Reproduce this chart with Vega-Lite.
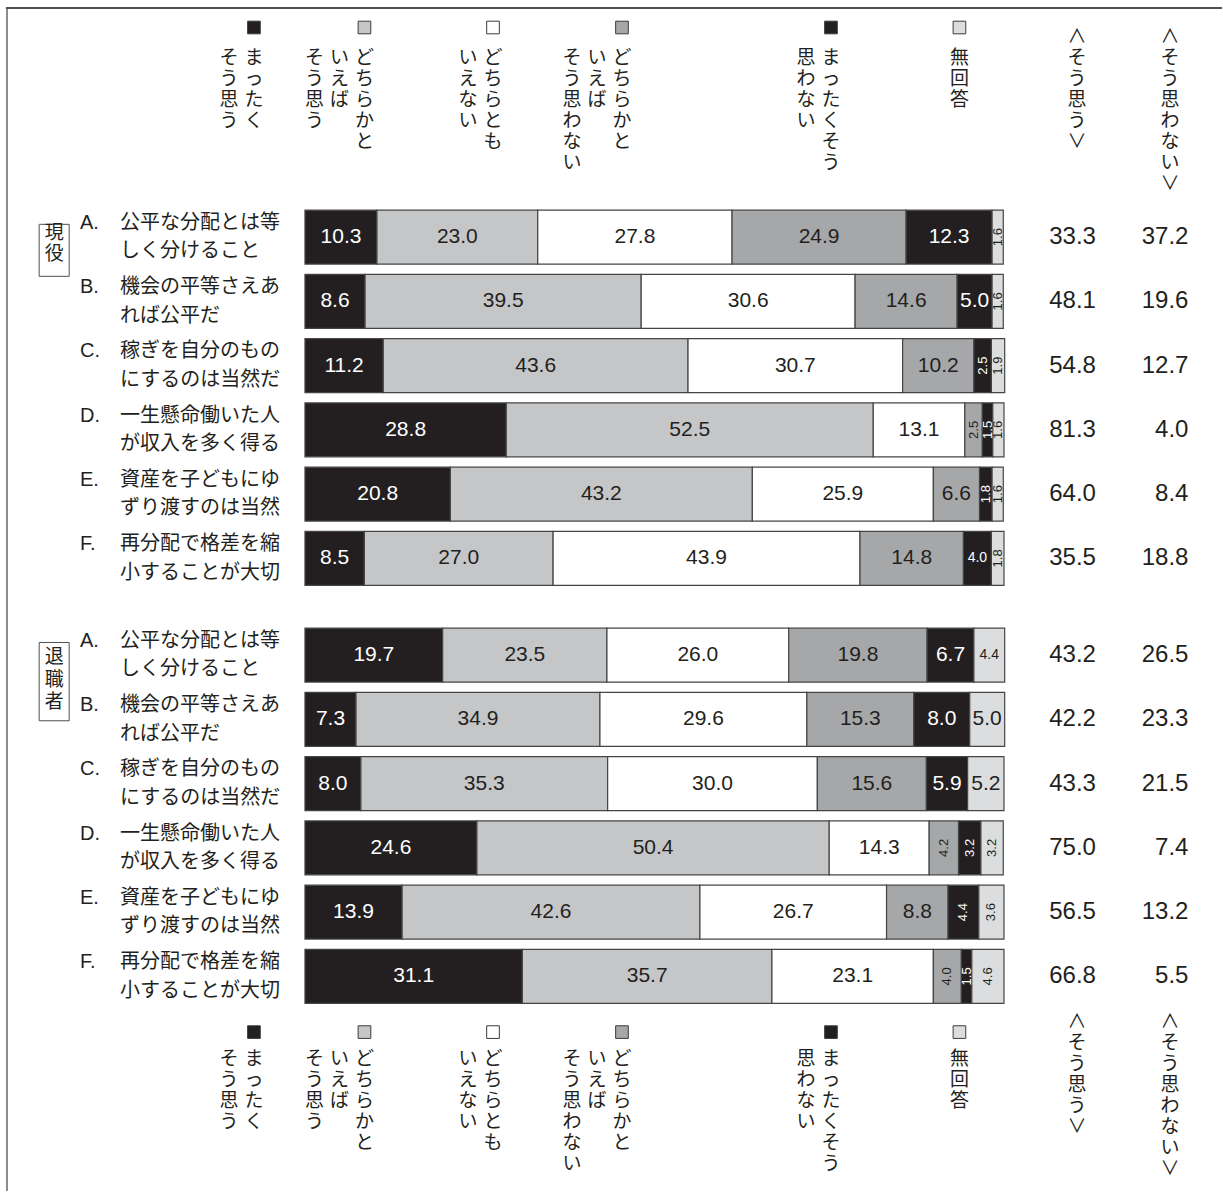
{
  "$schema": "https://vega.github.io/schema/vega-lite/v6.json",
  "padding": {"left": 0, "top": 7, "right": 0, "bottom": 0},
  "spacing": 0,
  "bounds": "flush",
  "config": {"view": {"stroke": null}, "font": "Liberation Sans"},
  "resolve": {"scale": {"y": "independent"}},
  "datasets": {
    "bars": [
      {"g": "現役", "item": "A", "label": "公平な分配とは等しく分けること", "a1": 10.3, "a2": 23.0, "a3": 27.8, "a4": 24.9, "a5": 12.3, "a6": 1.6, "agree": 33.3, "disagree": 37.2},
      {"g": "現役", "item": "B", "label": "機会の平等さえあれば公平だ", "a1": 8.6, "a2": 39.5, "a3": 30.6, "a4": 14.6, "a5": 5.0, "a6": 1.6, "agree": 48.1, "disagree": 19.6},
      {"g": "現役", "item": "C", "label": "稼ぎを自分のものにするのは当然だ", "a1": 11.2, "a2": 43.6, "a3": 30.7, "a4": 10.2, "a5": 2.5, "a6": 1.9, "agree": 54.8, "disagree": 12.7},
      {"g": "現役", "item": "D", "label": "一生懸命働いた人が収入を多く得る", "a1": 28.8, "a2": 52.5, "a3": 13.1, "a4": 2.5, "a5": 1.5, "a6": 1.6, "agree": 81.3, "disagree": 4.0},
      {"g": "現役", "item": "E", "label": "資産を子どもにゆずり渡すのは当然", "a1": 20.8, "a2": 43.2, "a3": 25.9, "a4": 6.6, "a5": 1.8, "a6": 1.6, "agree": 64.0, "disagree": 8.4},
      {"g": "現役", "item": "F", "label": "再分配で格差を縮小することが大切", "a1": 8.5, "a2": 27.0, "a3": 43.9, "a4": 14.8, "a5": 4.0, "a6": 1.8, "agree": 35.5, "disagree": 18.8},
      {"g": "退職者", "item": "A", "label": "公平な分配とは等しく分けること", "a1": 19.7, "a2": 23.5, "a3": 26.0, "a4": 19.8, "a5": 6.7, "a6": 4.4, "agree": 43.2, "disagree": 26.5},
      {"g": "退職者", "item": "B", "label": "機会の平等さえあれば公平だ", "a1": 7.3, "a2": 34.9, "a3": 29.6, "a4": 15.3, "a5": 8.0, "a6": 5.0, "agree": 42.2, "disagree": 23.3},
      {"g": "退職者", "item": "C", "label": "稼ぎを自分のものにするのは当然だ", "a1": 8.0, "a2": 35.3, "a3": 30.0, "a4": 15.6, "a5": 5.9, "a6": 5.2, "agree": 43.3, "disagree": 21.5},
      {"g": "退職者", "item": "D", "label": "一生懸命働いた人が収入を多く得る", "a1": 24.6, "a2": 50.4, "a3": 14.3, "a4": 4.2, "a5": 3.2, "a6": 3.2, "agree": 75.0, "disagree": 7.4},
      {"g": "退職者", "item": "E", "label": "資産を子どもにゆずり渡すのは当然", "a1": 13.9, "a2": 42.6, "a3": 26.7, "a4": 8.8, "a5": 4.4, "a6": 3.6, "agree": 56.5, "disagree": 13.2},
      {"g": "退職者", "item": "F", "label": "再分配で格差を縮小することが大切", "a1": 31.1, "a2": 35.7, "a3": 23.1, "a4": 4.0, "a5": 1.5, "a6": 4.6, "agree": 66.8, "disagree": 5.5}
    ],
    "answers": [
      {"c": "a1", "col": 0, "s": "まったく"},
      {"c": "a1", "col": 1, "s": "そう思う"},
      {"c": "a2", "col": 0, "s": "どちらかと"},
      {"c": "a2", "col": 1, "s": "いえば"},
      {"c": "a2", "col": 2, "s": "そう思う"},
      {"c": "a3", "col": 0, "s": "どちらとも"},
      {"c": "a3", "col": 1, "s": "いえない"},
      {"c": "a4", "col": 0, "s": "どちらかと"},
      {"c": "a4", "col": 1, "s": "いえば"},
      {"c": "a4", "col": 2, "s": "そう思わない"},
      {"c": "a5", "col": 0, "s": "まったくそう"},
      {"c": "a5", "col": 1, "s": "思わない"},
      {"c": "a6", "col": 0, "s": "無回答"}
    ],
    "totalsHead": [
      {"sum": "agree", "s": "∧そう思う∨"},
      {"sum": "disagree", "s": "∧そう思わない∨"}
    ]
  },
  "vconcat": [
    {
      "width": 1222,
      "height": 196.2,
      "data": {"name": "answers"},
      "transform": [{"calculate": "split(datum.s, '')", "as": "chars"}],
      "layer": [
        {"data": {"values": [{}]}, "mark": {"type": "rule", "color": "#8c8c8c", "strokeWidth": 2},
         "encoding": {"x": {"datum": -42.63, "type": "quantitative", "scale": {"domain": [-43.63, 131.19], "nice": false, "zero": false}, "axis": null},
           "y": {"datum": 1, "type": "quantitative", "scale": {"domain": [0, 1], "nice": false, "zero": false}, "axis": null}, "y2": {"datum": -5.03}}},
        {"data": {"values": [{}]}, "mark": {"type": "rule", "color": "#505050", "strokeWidth": 2},
         "encoding": {"x": {"datum": -42.78, "type": "quantitative", "scale": {"domain": [-43.63, 131.19], "nice": false, "zero": false}, "axis": null}, "x2": {"datum": 131.19},
           "y": {"datum": 1, "type": "quantitative", "scale": {"domain": [0, 1], "nice": false, "zero": false}, "axis": null}}},
        {"transform": [{"filter": "datum.c === 'a1'"}],
         "encoding": {"x": {"datum": -7.30, "type": "quantitative", "scale": {"domain": [-43.63, 131.19], "nice": false, "zero": false}, "axis": null}},
         "layer": [
           {"transform": [{"filter": "datum.col === 0"}], "mark": {"type": "point", "shape": "square", "filled": true, "size": 160, "stroke": "#3c3c3c", "strokeWidth": 1, "opacity": 1, "yOffset": -78.6},
            "encoding": {"color": {"field": "c", "type": "nominal", "scale": {"domain": ["a1", "a2", "a3", "a4", "a5", "a6"], "range": ["#231f20", "#c5c6c8", "#ffffff", "#a6a7a9", "#231f20", "#dcdddf"]}, "legend": null}}},
           {"mark": {"type": "text", "font": "Noto Sans CJK JP", "fontSize": 19, "lineHeight": 21, "align": "center", "baseline": "top", "dy": -57.6, "color": "#231f20"},
            "encoding": {"xOffset": {"field": "col", "type": "quantitative", "scale": {"domain": [0, 2], "range": [0, -50], "nice": false, "zero": false}}, "text": {"field": "chars", "type": "nominal"}}}
         ]},
        {"transform": [{"filter": "datum.c === 'a2'"}],
         "encoding": {"x": {"datum": 8.51, "type": "quantitative", "scale": {"domain": [-43.63, 131.19], "nice": false, "zero": false}, "axis": null}},
         "layer": [
           {"transform": [{"filter": "datum.col === 0"}], "mark": {"type": "point", "shape": "square", "filled": true, "size": 160, "stroke": "#3c3c3c", "strokeWidth": 1, "opacity": 1, "yOffset": -78.6},
            "encoding": {"color": {"field": "c", "type": "nominal", "scale": {"domain": ["a1", "a2", "a3", "a4", "a5", "a6"], "range": ["#231f20", "#c5c6c8", "#ffffff", "#a6a7a9", "#231f20", "#dcdddf"]}, "legend": null}}},
           {"mark": {"type": "text", "font": "Noto Sans CJK JP", "fontSize": 19, "lineHeight": 21, "align": "center", "baseline": "top", "dy": -57.6, "color": "#231f20"},
            "encoding": {"xOffset": {"field": "col", "type": "quantitative", "scale": {"domain": [0, 2], "range": [0, -50], "nice": false, "zero": false}}, "text": {"field": "chars", "type": "nominal"}}}
         ]},
        {"transform": [{"filter": "datum.c === 'a3'"}],
         "encoding": {"x": {"datum": 26.90, "type": "quantitative", "scale": {"domain": [-43.63, 131.19], "nice": false, "zero": false}, "axis": null}},
         "layer": [
           {"transform": [{"filter": "datum.col === 0"}], "mark": {"type": "point", "shape": "square", "filled": true, "size": 160, "stroke": "#3c3c3c", "strokeWidth": 1, "opacity": 1, "yOffset": -78.6},
            "encoding": {"color": {"field": "c", "type": "nominal", "scale": {"domain": ["a1", "a2", "a3", "a4", "a5", "a6"], "range": ["#231f20", "#c5c6c8", "#ffffff", "#a6a7a9", "#231f20", "#dcdddf"]}, "legend": null}}},
           {"mark": {"type": "text", "font": "Noto Sans CJK JP", "fontSize": 19, "lineHeight": 21, "align": "center", "baseline": "top", "dy": -57.6, "color": "#231f20"},
            "encoding": {"xOffset": {"field": "col", "type": "quantitative", "scale": {"domain": [0, 2], "range": [0, -50], "nice": false, "zero": false}}, "text": {"field": "chars", "type": "nominal"}}}
         ]},
        {"transform": [{"filter": "datum.c === 'a4'"}],
         "encoding": {"x": {"datum": 45.35, "type": "quantitative", "scale": {"domain": [-43.63, 131.19], "nice": false, "zero": false}, "axis": null}},
         "layer": [
           {"transform": [{"filter": "datum.col === 0"}], "mark": {"type": "point", "shape": "square", "filled": true, "size": 160, "stroke": "#3c3c3c", "strokeWidth": 1, "opacity": 1, "yOffset": -78.6},
            "encoding": {"color": {"field": "c", "type": "nominal", "scale": {"domain": ["a1", "a2", "a3", "a4", "a5", "a6"], "range": ["#231f20", "#c5c6c8", "#ffffff", "#a6a7a9", "#231f20", "#dcdddf"]}, "legend": null}}},
           {"mark": {"type": "text", "font": "Noto Sans CJK JP", "fontSize": 19, "lineHeight": 21, "align": "center", "baseline": "top", "dy": -57.6, "color": "#231f20"},
            "encoding": {"xOffset": {"field": "col", "type": "quantitative", "scale": {"domain": [0, 2], "range": [0, -50], "nice": false, "zero": false}}, "text": {"field": "chars", "type": "nominal"}}}
         ]},
        {"transform": [{"filter": "datum.c === 'a5'"}],
         "encoding": {"x": {"datum": 75.25, "type": "quantitative", "scale": {"domain": [-43.63, 131.19], "nice": false, "zero": false}, "axis": null}},
         "layer": [
           {"transform": [{"filter": "datum.col === 0"}], "mark": {"type": "point", "shape": "square", "filled": true, "size": 160, "stroke": "#3c3c3c", "strokeWidth": 1, "opacity": 1, "yOffset": -78.6},
            "encoding": {"color": {"field": "c", "type": "nominal", "scale": {"domain": ["a1", "a2", "a3", "a4", "a5", "a6"], "range": ["#231f20", "#c5c6c8", "#ffffff", "#a6a7a9", "#231f20", "#dcdddf"]}, "legend": null}}},
           {"mark": {"type": "text", "font": "Noto Sans CJK JP", "fontSize": 19, "lineHeight": 21, "align": "center", "baseline": "top", "dy": -57.6, "color": "#231f20"},
            "encoding": {"xOffset": {"field": "col", "type": "quantitative", "scale": {"domain": [0, 2], "range": [0, -50], "nice": false, "zero": false}}, "text": {"field": "chars", "type": "nominal"}}}
         ]},
        {"transform": [{"filter": "datum.c === 'a6'"}],
         "encoding": {"x": {"datum": 93.63, "type": "quantitative", "scale": {"domain": [-43.63, 131.19], "nice": false, "zero": false}, "axis": null}},
         "layer": [
           {"transform": [{"filter": "datum.col === 0"}], "mark": {"type": "point", "shape": "square", "filled": true, "size": 160, "stroke": "#3c3c3c", "strokeWidth": 1, "opacity": 1, "yOffset": -78.6},
            "encoding": {"color": {"field": "c", "type": "nominal", "scale": {"domain": ["a1", "a2", "a3", "a4", "a5", "a6"], "range": ["#231f20", "#c5c6c8", "#ffffff", "#a6a7a9", "#231f20", "#dcdddf"]}, "legend": null}}},
           {"mark": {"type": "text", "font": "Noto Sans CJK JP", "fontSize": 19, "lineHeight": 21, "align": "center", "baseline": "top", "dy": -57.6, "color": "#231f20"},
            "encoding": {"xOffset": {"field": "col", "type": "quantitative", "scale": {"domain": [0, 2], "range": [0, -50], "nice": false, "zero": false}}, "text": {"field": "chars", "type": "nominal"}}}
         ]},
        {"data": {"name": "totalsHead"},
         "transform": [{"filter": "datum.sum === 'agree'"}, {"calculate": "split(datum.s, '')", "as": "chars"}],
         "mark": {"type": "text", "font": "Noto Sans CJK JP", "fontSize": 19, "lineHeight": 21, "align": "center", "baseline": "top", "dy": -78.6, "color": "#231f20"},
         "encoding": {"x": {"datum": 110.44, "type": "quantitative", "scale": {"domain": [-43.63, 131.19], "nice": false, "zero": false}, "axis": null}, "text": {"field": "chars", "type": "nominal"}}},
        {"data": {"name": "totalsHead"},
         "transform": [{"filter": "datum.sum === 'disagree'"}, {"calculate": "split(datum.s, '')", "as": "chars"}],
         "mark": {"type": "text", "font": "Noto Sans CJK JP", "fontSize": 19, "lineHeight": 21, "align": "center", "baseline": "top", "dy": -78.6, "color": "#231f20"},
         "encoding": {"x": {"datum": 123.75, "type": "quantitative", "scale": {"domain": [-43.63, 131.19], "nice": false, "zero": false}, "axis": null}, "text": {"field": "chars", "type": "nominal"}}}
      ]
    },
    {
      "width": 1222,
      "height": 417.7,
      "layer": [
        {"data": {"name": "bars"},
         "transform": [
           {"filter": "datum.g === '現役'"},
           {"fold": ["a1", "a2", "a3", "a4", "a5", "a6"], "as": ["c", "v"]},
           {"stack": "v", "groupby": ["item"], "sort": [{"field": "c", "order": "ascending"}], "as": ["v0", "v1"]},
           {"calculate": "(datum.v0 + datum.v1) / 2", "as": "vm"}
         ],
         "encoding": {"y": {"field": "item", "type": "nominal", "axis": null, "scale": {"paddingInner": 0.16, "paddingOuter": 0.3306, "align": 0.121}}},
         "layer": [
           {"mark": {"type": "bar", "stroke": "#454545", "strokeWidth": 1.2},
            "encoding": {"x": {"field": "v0", "type": "quantitative", "scale": {"domain": [-43.63, 131.19], "nice": false, "zero": false}, "axis": null}, "x2": {"field": "v1"},
              "color": {"field": "c", "type": "nominal", "scale": {"domain": ["a1", "a2", "a3", "a4", "a5", "a6"], "range": ["#231f20", "#c5c6c8", "#ffffff", "#a6a7a9", "#231f20", "#dcdddf"]}, "legend": null}}},
           {"mark": {"type": "text", "font": "Liberation Sans", "align": "center", "baseline": "middle"},
            "encoding": {"x": {"field": "vm", "type": "quantitative", "scale": {"domain": [-43.63, 131.19], "nice": false, "zero": false}, "axis": null},
              "text": {"field": "v", "type": "quantitative", "format": ".1f"},
              "color": {"condition": {"test": "datum.c === 'a1' || datum.c === 'a5'", "value": "#ffffff"}, "value": "#231f20"},
              "size": {"condition": [{"test": "datum.v < 3", "value": 13}, {"test": "datum.v < 5", "value": 14}], "value": 21},
              "angle": {"condition": {"test": "datum.v < 3", "value": 270}, "value": 0}}}
         ]},
        {"data": {"name": "bars"},
         "transform": [
           {"filter": "datum.g === '現役'"},
           {"calculate": "datum.item + '.'", "as": "tag"},
           {"calculate": "[substring(datum.label, 0, 8), substring(datum.label, 8)]", "as": "lines"}
         ],
         "encoding": {"y": {"field": "item", "type": "nominal", "axis": null}},
         "layer": [
           {"mark": {"type": "text", "align": "right", "baseline": "middle", "fontSize": 24, "color": "#231f20"},
            "encoding": {"x": {"datum": 113.16, "type": "quantitative", "scale": {"domain": [-43.63, 131.19], "nice": false, "zero": false}, "axis": null}, "text": {"field": "agree", "type": "quantitative", "format": ".1f"}}},
           {"mark": {"type": "text", "align": "right", "baseline": "middle", "fontSize": 24, "color": "#231f20"},
            "encoding": {"x": {"datum": 126.39, "type": "quantitative", "scale": {"domain": [-43.63, 131.19], "nice": false, "zero": false}, "axis": null}, "text": {"field": "disagree", "type": "quantitative", "format": ".1f"}}},
           {"mark": {"type": "text", "align": "left", "baseline": "middle", "fontSize": 20, "dy": -14.3, "color": "#231f20"},
            "encoding": {"x": {"datum": -32.19, "type": "quantitative", "scale": {"domain": [-43.63, 131.19], "nice": false, "zero": false}, "axis": null}, "text": {"field": "tag", "type": "nominal"}}},
           {"mark": {"type": "text", "font": "Noto Sans CJK JP", "align": "left", "baseline": "middle", "fontSize": 20, "lineHeight": 28.7, "dy": -14.35, "color": "#231f20"},
            "encoding": {"x": {"datum": -26.47, "type": "quantitative", "scale": {"domain": [-43.63, 131.19], "nice": false, "zero": false}, "axis": null}, "text": {"field": "lines", "type": "nominal"}}}
         ]},
        {"data": {"name": "bars"},
         "transform": [
           {"filter": "datum.g === '現役'"},
           {"aggregate": [{"op": "count", "as": "n"}], "groupby": ["g"]},
           {"calculate": "split(datum.g, '')", "as": "chars"}
         ],
         "encoding": {"x": {"datum": -35.88, "type": "quantitative", "scale": {"domain": [-43.63, 131.19], "nice": false, "zero": false}, "axis": null}, "y": {"datum": "A", "type": "nominal", "axis": null}},
         "layer": [
           {"mark": {"type": "point", "shape": "M-0.577,-1H0.577V1H-0.577Z", "size": 2704, "filled": false, "stroke": "#505050", "strokeWidth": 1, "opacity": 1, "yOffset": 13.2}},
           {"mark": {"type": "text", "font": "Noto Sans CJK JP", "fontSize": 19, "lineHeight": 21, "align": "center", "baseline": "middle", "dy": -4.5, "color": "#231f20"},
            "encoding": {"text": {"field": "chars", "type": "nominal"}}}
         ]}
      ]
    },
    {
      "width": 1222,
      "height": 385.5,
      "layer": [
        {"data": {"name": "bars"},
         "transform": [
           {"filter": "datum.g === '退職者'"},
           {"fold": ["a1", "a2", "a3", "a4", "a5", "a6"], "as": ["c", "v"]},
           {"stack": "v", "groupby": ["item"], "sort": [{"field": "c", "order": "ascending"}], "as": ["v0", "v1"]},
           {"calculate": "(datum.v0 + datum.v1) / 2", "as": "vm"}
         ],
         "encoding": {"y": {"field": "item", "type": "nominal", "axis": null, "scale": {"paddingInner": 0.16, "paddingOuter": 0.08}}},
         "layer": [
           {"mark": {"type": "bar", "stroke": "#454545", "strokeWidth": 1.2},
            "encoding": {"x": {"field": "v0", "type": "quantitative", "scale": {"domain": [-43.63, 131.19], "nice": false, "zero": false}, "axis": null}, "x2": {"field": "v1"},
              "color": {"field": "c", "type": "nominal", "scale": {"domain": ["a1", "a2", "a3", "a4", "a5", "a6"], "range": ["#231f20", "#c5c6c8", "#ffffff", "#a6a7a9", "#231f20", "#dcdddf"]}, "legend": null}}},
           {"mark": {"type": "text", "font": "Liberation Sans", "align": "center", "baseline": "middle"},
            "encoding": {"x": {"field": "vm", "type": "quantitative", "scale": {"domain": [-43.63, 131.19], "nice": false, "zero": false}, "axis": null},
              "text": {"field": "v", "type": "quantitative", "format": ".1f"},
              "color": {"condition": {"test": "datum.c === 'a1' || datum.c === 'a5'", "value": "#ffffff"}, "value": "#231f20"},
              "size": {"condition": [{"test": "datum.v < 5 && datum.item !== 'A'", "value": 13}, {"test": "datum.v < 5", "value": 14}], "value": 21},
              "angle": {"condition": {"test": "datum.v < 5 && datum.item !== 'A'", "value": 270}, "value": 0}}}
         ]},
        {"data": {"name": "bars"},
         "transform": [
           {"filter": "datum.g === '退職者'"},
           {"calculate": "datum.item + '.'", "as": "tag"},
           {"calculate": "[substring(datum.label, 0, 8), substring(datum.label, 8)]", "as": "lines"}
         ],
         "encoding": {"y": {"field": "item", "type": "nominal", "axis": null}},
         "layer": [
           {"mark": {"type": "text", "align": "right", "baseline": "middle", "fontSize": 24, "color": "#231f20"},
            "encoding": {"x": {"datum": 113.16, "type": "quantitative", "scale": {"domain": [-43.63, 131.19], "nice": false, "zero": false}, "axis": null}, "text": {"field": "agree", "type": "quantitative", "format": ".1f"}}},
           {"mark": {"type": "text", "align": "right", "baseline": "middle", "fontSize": 24, "color": "#231f20"},
            "encoding": {"x": {"datum": 126.39, "type": "quantitative", "scale": {"domain": [-43.63, 131.19], "nice": false, "zero": false}, "axis": null}, "text": {"field": "disagree", "type": "quantitative", "format": ".1f"}}},
           {"mark": {"type": "text", "align": "left", "baseline": "middle", "fontSize": 20, "dy": -14.3, "color": "#231f20"},
            "encoding": {"x": {"datum": -32.19, "type": "quantitative", "scale": {"domain": [-43.63, 131.19], "nice": false, "zero": false}, "axis": null}, "text": {"field": "tag", "type": "nominal"}}},
           {"mark": {"type": "text", "font": "Noto Sans CJK JP", "align": "left", "baseline": "middle", "fontSize": 20, "lineHeight": 28.7, "dy": -14.35, "color": "#231f20"},
            "encoding": {"x": {"datum": -26.47, "type": "quantitative", "scale": {"domain": [-43.63, 131.19], "nice": false, "zero": false}, "axis": null}, "text": {"field": "lines", "type": "nominal"}}}
         ]},
        {"data": {"name": "bars"},
         "transform": [
           {"filter": "datum.g === '退職者'"},
           {"aggregate": [{"op": "count", "as": "n"}], "groupby": ["g"]},
           {"calculate": "split(datum.g, '')", "as": "chars"}
         ],
         "encoding": {"x": {"datum": -35.88, "type": "quantitative", "scale": {"domain": [-43.63, 131.19], "nice": false, "zero": false}, "axis": null}, "y": {"datum": "A", "type": "nominal", "axis": null}},
         "layer": [
           {"mark": {"type": "point", "shape": "M-0.383,-1H0.383V1H-0.383Z", "size": 6131, "filled": false, "stroke": "#505050", "strokeWidth": 1, "opacity": 1, "yOffset": 26.5}},
           {"mark": {"type": "text", "font": "Noto Sans CJK JP", "fontSize": 19, "lineHeight": 22.5, "align": "center", "baseline": "middle", "dy": 2, "color": "#231f20"},
            "encoding": {"text": {"field": "chars", "type": "nominal"}}}
         ]}
      ]
    },
    {
      "width": 1222,
      "height": 183.9,
      "data": {"name": "answers"},
      "transform": [{"calculate": "split(datum.s, '')", "as": "chars"}],
      "layer": [
        {"transform": [{"filter": "datum.c === 'a1'"}],
         "encoding": {"x": {"datum": -7.30, "type": "quantitative", "scale": {"domain": [-43.63, 131.19], "nice": false, "zero": false}, "axis": null}},
         "layer": [
           {"transform": [{"filter": "datum.col === 0"}], "mark": {"type": "point", "shape": "square", "filled": true, "size": 160, "stroke": "#3c3c3c", "strokeWidth": 1, "opacity": 1, "yOffset": -68.85},
            "encoding": {"color": {"field": "c", "type": "nominal", "scale": {"domain": ["a1", "a2", "a3", "a4", "a5", "a6"], "range": ["#231f20", "#c5c6c8", "#ffffff", "#a6a7a9", "#231f20", "#dcdddf"]}, "legend": null}}},
           {"mark": {"type": "text", "font": "Noto Sans CJK JP", "fontSize": 19, "lineHeight": 21, "align": "center", "baseline": "top", "dy": -50.85, "color": "#231f20"},
            "encoding": {"xOffset": {"field": "col", "type": "quantitative", "scale": {"domain": [0, 2], "range": [0, -50], "nice": false, "zero": false}}, "text": {"field": "chars", "type": "nominal"}}}
         ]},
        {"transform": [{"filter": "datum.c === 'a2'"}],
         "encoding": {"x": {"datum": 8.51, "type": "quantitative", "scale": {"domain": [-43.63, 131.19], "nice": false, "zero": false}, "axis": null}},
         "layer": [
           {"transform": [{"filter": "datum.col === 0"}], "mark": {"type": "point", "shape": "square", "filled": true, "size": 160, "stroke": "#3c3c3c", "strokeWidth": 1, "opacity": 1, "yOffset": -68.85},
            "encoding": {"color": {"field": "c", "type": "nominal", "scale": {"domain": ["a1", "a2", "a3", "a4", "a5", "a6"], "range": ["#231f20", "#c5c6c8", "#ffffff", "#a6a7a9", "#231f20", "#dcdddf"]}, "legend": null}}},
           {"mark": {"type": "text", "font": "Noto Sans CJK JP", "fontSize": 19, "lineHeight": 21, "align": "center", "baseline": "top", "dy": -50.85, "color": "#231f20"},
            "encoding": {"xOffset": {"field": "col", "type": "quantitative", "scale": {"domain": [0, 2], "range": [0, -50], "nice": false, "zero": false}}, "text": {"field": "chars", "type": "nominal"}}}
         ]},
        {"transform": [{"filter": "datum.c === 'a3'"}],
         "encoding": {"x": {"datum": 26.90, "type": "quantitative", "scale": {"domain": [-43.63, 131.19], "nice": false, "zero": false}, "axis": null}},
         "layer": [
           {"transform": [{"filter": "datum.col === 0"}], "mark": {"type": "point", "shape": "square", "filled": true, "size": 160, "stroke": "#3c3c3c", "strokeWidth": 1, "opacity": 1, "yOffset": -68.85},
            "encoding": {"color": {"field": "c", "type": "nominal", "scale": {"domain": ["a1", "a2", "a3", "a4", "a5", "a6"], "range": ["#231f20", "#c5c6c8", "#ffffff", "#a6a7a9", "#231f20", "#dcdddf"]}, "legend": null}}},
           {"mark": {"type": "text", "font": "Noto Sans CJK JP", "fontSize": 19, "lineHeight": 21, "align": "center", "baseline": "top", "dy": -50.85, "color": "#231f20"},
            "encoding": {"xOffset": {"field": "col", "type": "quantitative", "scale": {"domain": [0, 2], "range": [0, -50], "nice": false, "zero": false}}, "text": {"field": "chars", "type": "nominal"}}}
         ]},
        {"transform": [{"filter": "datum.c === 'a4'"}],
         "encoding": {"x": {"datum": 45.35, "type": "quantitative", "scale": {"domain": [-43.63, 131.19], "nice": false, "zero": false}, "axis": null}},
         "layer": [
           {"transform": [{"filter": "datum.col === 0"}], "mark": {"type": "point", "shape": "square", "filled": true, "size": 160, "stroke": "#3c3c3c", "strokeWidth": 1, "opacity": 1, "yOffset": -68.85},
            "encoding": {"color": {"field": "c", "type": "nominal", "scale": {"domain": ["a1", "a2", "a3", "a4", "a5", "a6"], "range": ["#231f20", "#c5c6c8", "#ffffff", "#a6a7a9", "#231f20", "#dcdddf"]}, "legend": null}}},
           {"mark": {"type": "text", "font": "Noto Sans CJK JP", "fontSize": 19, "lineHeight": 21, "align": "center", "baseline": "top", "dy": -50.85, "color": "#231f20"},
            "encoding": {"xOffset": {"field": "col", "type": "quantitative", "scale": {"domain": [0, 2], "range": [0, -50], "nice": false, "zero": false}}, "text": {"field": "chars", "type": "nominal"}}}
         ]},
        {"transform": [{"filter": "datum.c === 'a5'"}],
         "encoding": {"x": {"datum": 75.25, "type": "quantitative", "scale": {"domain": [-43.63, 131.19], "nice": false, "zero": false}, "axis": null}},
         "layer": [
           {"transform": [{"filter": "datum.col === 0"}], "mark": {"type": "point", "shape": "square", "filled": true, "size": 160, "stroke": "#3c3c3c", "strokeWidth": 1, "opacity": 1, "yOffset": -68.85},
            "encoding": {"color": {"field": "c", "type": "nominal", "scale": {"domain": ["a1", "a2", "a3", "a4", "a5", "a6"], "range": ["#231f20", "#c5c6c8", "#ffffff", "#a6a7a9", "#231f20", "#dcdddf"]}, "legend": null}}},
           {"mark": {"type": "text", "font": "Noto Sans CJK JP", "fontSize": 19, "lineHeight": 21, "align": "center", "baseline": "top", "dy": -50.85, "color": "#231f20"},
            "encoding": {"xOffset": {"field": "col", "type": "quantitative", "scale": {"domain": [0, 2], "range": [0, -50], "nice": false, "zero": false}}, "text": {"field": "chars", "type": "nominal"}}}
         ]},
        {"transform": [{"filter": "datum.c === 'a6'"}],
         "encoding": {"x": {"datum": 93.63, "type": "quantitative", "scale": {"domain": [-43.63, 131.19], "nice": false, "zero": false}, "axis": null}},
         "layer": [
           {"transform": [{"filter": "datum.col === 0"}], "mark": {"type": "point", "shape": "square", "filled": true, "size": 160, "stroke": "#3c3c3c", "strokeWidth": 1, "opacity": 1, "yOffset": -68.85},
            "encoding": {"color": {"field": "c", "type": "nominal", "scale": {"domain": ["a1", "a2", "a3", "a4", "a5", "a6"], "range": ["#231f20", "#c5c6c8", "#ffffff", "#a6a7a9", "#231f20", "#dcdddf"]}, "legend": null}}},
           {"mark": {"type": "text", "font": "Noto Sans CJK JP", "fontSize": 19, "lineHeight": 21, "align": "center", "baseline": "top", "dy": -50.85, "color": "#231f20"},
            "encoding": {"xOffset": {"field": "col", "type": "quantitative", "scale": {"domain": [0, 2], "range": [0, -50], "nice": false, "zero": false}}, "text": {"field": "chars", "type": "nominal"}}}
         ]},
        {"data": {"name": "totalsHead"},
         "transform": [{"filter": "datum.sum === 'agree'"}, {"calculate": "split(datum.s, '')", "as": "chars"}],
         "mark": {"type": "text", "font": "Noto Sans CJK JP", "fontSize": 19, "lineHeight": 21, "align": "center", "baseline": "top", "dy": -87.5, "color": "#231f20"},
         "encoding": {"x": {"datum": 110.44, "type": "quantitative", "scale": {"domain": [-43.63, 131.19], "nice": false, "zero": false}, "axis": null}, "text": {"field": "chars", "type": "nominal"}}},
        {"data": {"name": "totalsHead"},
         "transform": [{"filter": "datum.sum === 'disagree'"}, {"calculate": "split(datum.s, '')", "as": "chars"}],
         "mark": {"type": "text", "font": "Noto Sans CJK JP", "fontSize": 19, "lineHeight": 21, "align": "center", "baseline": "top", "dy": -87.5, "color": "#231f20"},
         "encoding": {"x": {"datum": 123.75, "type": "quantitative", "scale": {"domain": [-43.63, 131.19], "nice": false, "zero": false}, "axis": null}, "text": {"field": "chars", "type": "nominal"}}}
      ]
    }
  ]
}
